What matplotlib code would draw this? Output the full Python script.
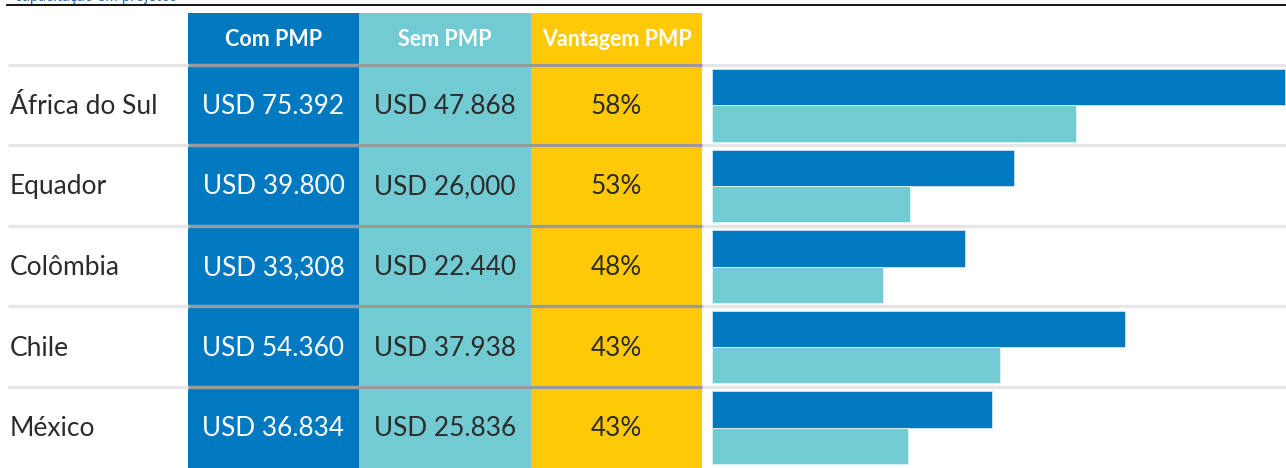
import matplotlib
matplotlib.use('Agg')
from matplotlib import pyplot as plt
import numpy as np

plt.rcParams['font.family'] = ['Lato', 'DejaVu Sans']

# data
countries = ['África do Sul', 'Equador', 'Colômbia', 'Chile', 'México']
com_pmp = [75392, 39800, 33308, 54360, 36834]
sem_pmp = [47868, 26000, 22440, 37938, 25836]
com_labels = ['USD 75.392', 'USD 39.800', 'USD 33,308', 'USD 54.360', 'USD 36.834']
sem_labels = ['USD 47.868', 'USD 26,000', 'USD 22.440', 'USD 37.938', 'USD 25.836']
vantagem = ['58%', '53%', '48%', '43%', '43%']
headers = ['Com PMP', 'Sem PMP', 'Vantagem PMP']

BLUE = '#0079c1'
TEAL = '#72cbd3'
YELLOW = '#ffc907'
DARK = '#2b2b2b'

W, H = 1286, 468
fig = plt.figure(figsize=(W / 100, H / 100), dpi=100)

# layout axes in pixel units
ax = fig.add_axes([0, 0, 1, 1])
ax.set_xlim(0, W)
ax.set_ylim(H, 0)
ax.axis('off')

# cut-off caption and top rule
ax.text(15, 1.5, 'capacitação em projetos', color='#2a6ebb', fontsize=11,
        ha='left', va='baseline')
ax.plot([7, W], [5, 5], color='black', lw=1.3)

col_x = [188, 359, 531, 702]
col_colors = [BLUE, TEAL, YELLOW]
head_top = 13
row_top = 65
row_h = (H - row_top) / len(countries)

for j in range(3):
    ax.fill_between([col_x[j], col_x[j + 1]], head_top, H, color=col_colors[j], lw=0)
    ax.text((col_x[j] + col_x[j + 1]) / 2, (head_top + row_top) / 2 + 1, headers[j],
            color='white', fontsize=15.5, fontweight='bold', ha='center', va='center')

# row separators
for i in range(len(countries)):
    y = row_top + row_h * i - 0.5
    ax.plot([8, W], [y, y], color='#e6e6e6', lw=2.3, solid_capstyle='butt')
    ax.plot([col_x[0], col_x[-1]], [y, y], color='#999999', lw=2.3, solid_capstyle='butt')

fs = 18.8
for i, c in enumerate(countries):
    yc = row_top + row_h * (i + 0.5) + 1
    ax.text(10, yc, c, color=DARK, fontsize=19, ha='left', va='center')
    ax.text((col_x[0] + col_x[1]) / 2, yc, com_labels[i], color='white', fontsize=fs,
            ha='center', va='center')
    ax.text((col_x[1] + col_x[2]) / 2, yc, sem_labels[i], color=DARK, fontsize=fs,
            ha='center', va='center')
    ax.text((col_x[2] + col_x[3]) / 2, yc, vantagem[i], color=DARK, fontsize=fs,
            ha='center', va='center')

# bar chart on the right
bx = fig.add_axes([712 / W, 0, (W - 712) / W, (H - row_top) / H])
y = np.arange(len(countries))
bx.barh(y - 0.225, com_pmp, height=0.45, color=BLUE, edgecolor='#cfe6f5', lw=0.6)
bx.barh(y + 0.225, sem_pmp, height=0.45, color=TEAL, edgecolor='#e0f3f5', lw=0.6)
bx.set_xlim(0, max(com_pmp) * 1.002)
bx.set_ylim(len(countries) - 0.5, -0.5)
bx.axis('off')

fig.savefig('out.png', dpi=100)
